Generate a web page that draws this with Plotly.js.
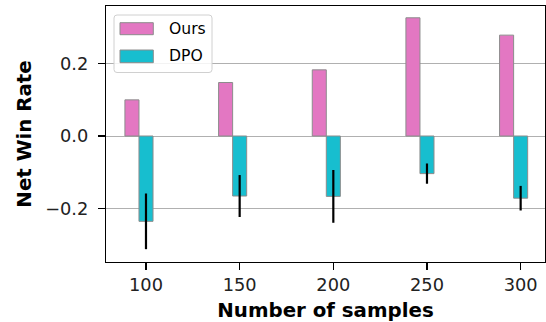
<!DOCTYPE html>
<html>
<head>
<meta charset="utf-8">
<script src="https://cdn.plot.ly/plotly-3.0.1.min.js"></script>
<style>html,body{margin:0;padding:0;background:#fff;}#chart{width:546px;height:322px;}</style>
</head>
<body>
<div id="chart"></div>
<script>
const samples = [100, 150, 200, 250, 300];
const seriesNames = ["Ours", "DPO"];
const oursValues = [0.10, 0.148, 0.183, 0.327, 0.279];
const dpoValues = [-0.236, -0.166, -0.167, -0.104, -0.172];
const dpoErrors = [0.077, 0.058, 0.073, 0.028, 0.034];
const yTickVals = [-0.2, 0.0, 0.2];
const yTickText = ["\u22120.2", "0.0", "0.2"];

const barWidth = 7.5;
const colors = ["#e377c2", "#17becf"];

const traces = [
  {
    type: "bar", name: seriesNames[0], x: samples, y: oursValues,
    width: barWidth, offset: -1.5 * barWidth,
    marker: {color: colors[0], line: {color: "#8c8c8c", width: 1}},
    showlegend: false
  },
  {
    type: "bar", name: seriesNames[1], x: samples, y: dpoValues,
    width: barWidth, offset: -0.5 * barWidth,
    marker: {color: colors[1], line: {color: "#8c8c8c", width: 1}},
    error_y: {type: "data", array: dpoErrors, visible: true, color: "#000", thickness: 2.2, width: 0},
    showlegend: false
  }
];

// plot area in px: x 106..545, y 6..262
const L = 106, R = 545, T = 6, B = 262, W = 546, H = 322;
const px = v => (v - L) / (R - L);
const py = v => (B - v) / (B - T);

function roundRect(x0, y0, x1, y1, r) {
  const X = v => px(v), Y = v => py(v);
  const rx = r / (R - L), ry = r / (B - T);
  const a = X(x0), b = X(x1), c = Y(y0), d = Y(y1);
  return `M${a + rx},${c} L${b - rx},${c} Q${b},${c} ${b},${c - ry} L${b},${d + ry} Q${b},${d} ${b - rx},${d} L${a + rx},${d} Q${a},${d} ${a},${d + ry} L${a},${c - ry} Q${a},${c} ${a + rx},${c} Z`;
}

const shapes = [
  {type: "path", xref: "paper", yref: "paper", path: roundRect(114, 15, 212, 72.5, 3),
   fillcolor: "rgba(255,255,255,0.85)", line: {color: "#d0d0d0", width: 1}, layer: "above"},
  {type: "rect", xref: "paper", yref: "paper", x0: px(120), x1: px(153.3), y0: py(34.7), y1: py(22.7),
   fillcolor: colors[0], line: {color: "#8c8c8c", width: 1}, layer: "above"},
  {type: "rect", xref: "paper", yref: "paper", x0: px(120), x1: px(153.3), y0: py(62.7), y1: py(50),
   fillcolor: colors[1], line: {color: "#8c8c8c", width: 1}, layer: "above"}
];

const legendFont = {family: "DejaVu Sans", size: 15.6, color: "#000"};
const annotations = [
  {xref: "paper", yref: "paper", x: px(166.5), y: py(28.5), text: seriesNames[0], showarrow: false,
   xanchor: "left", yanchor: "middle", font: legendFont},
  {xref: "paper", yref: "paper", x: px(166.5), y: py(56.2), text: seriesNames[1], showarrow: false,
   xanchor: "left", yanchor: "middle", font: legendFont}
];

const layout = {
  width: W, height: H,
  margin: {l: L, r: W - R, t: T, b: H - B, pad: 0},
  paper_bgcolor: "#fff", plot_bgcolor: "#fff",
  barmode: "overlay",
  showlegend: false,
  font: {family: "DejaVu Sans", color: "#000"},
  xaxis: {
    range: [78.65, 313.0], tickvals: samples, ticktext: samples.map(String),
    ticks: "outside", ticklen: 7, tickwidth: 1.1, tickcolor: "#000",
    showline: true, mirror: true, linecolor: "#000", linewidth: 1.1,
    showgrid: false, zeroline: false,
    tickfont: {family: "DejaVu Sans", size: 17.8, color: "#222"},
    title: {text: "<b>Number of samples</b>", font: {family: "DejaVu Sans", size: 19.8, color: "#000"}, standoff: 10}
  },
  yaxis: {
    range: [-0.3485, 0.3596], tickvals: yTickVals, ticktext: yTickText,
    ticks: "outside", ticklen: 7, tickwidth: 1.1, tickcolor: "#000",
    ticklabelstandoff: 6,
    showline: true, mirror: true, linecolor: "#000", linewidth: 1.1,
    showgrid: true, gridcolor: "#b0b0b0", gridwidth: 1, zeroline: false,
    tickfont: {family: "DejaVu Sans", size: 17.8, color: "#222"},
    title: {text: "<b>Net Win Rate</b>", font: {family: "DejaVu Sans", size: 19.8, color: "#000"}, standoff: 8}
  },
  shapes: shapes,
  annotations: annotations
};

Plotly.newPlot("chart", traces, layout, {displayModeBar: false, staticPlot: true});
</script>
</body>
</html>
